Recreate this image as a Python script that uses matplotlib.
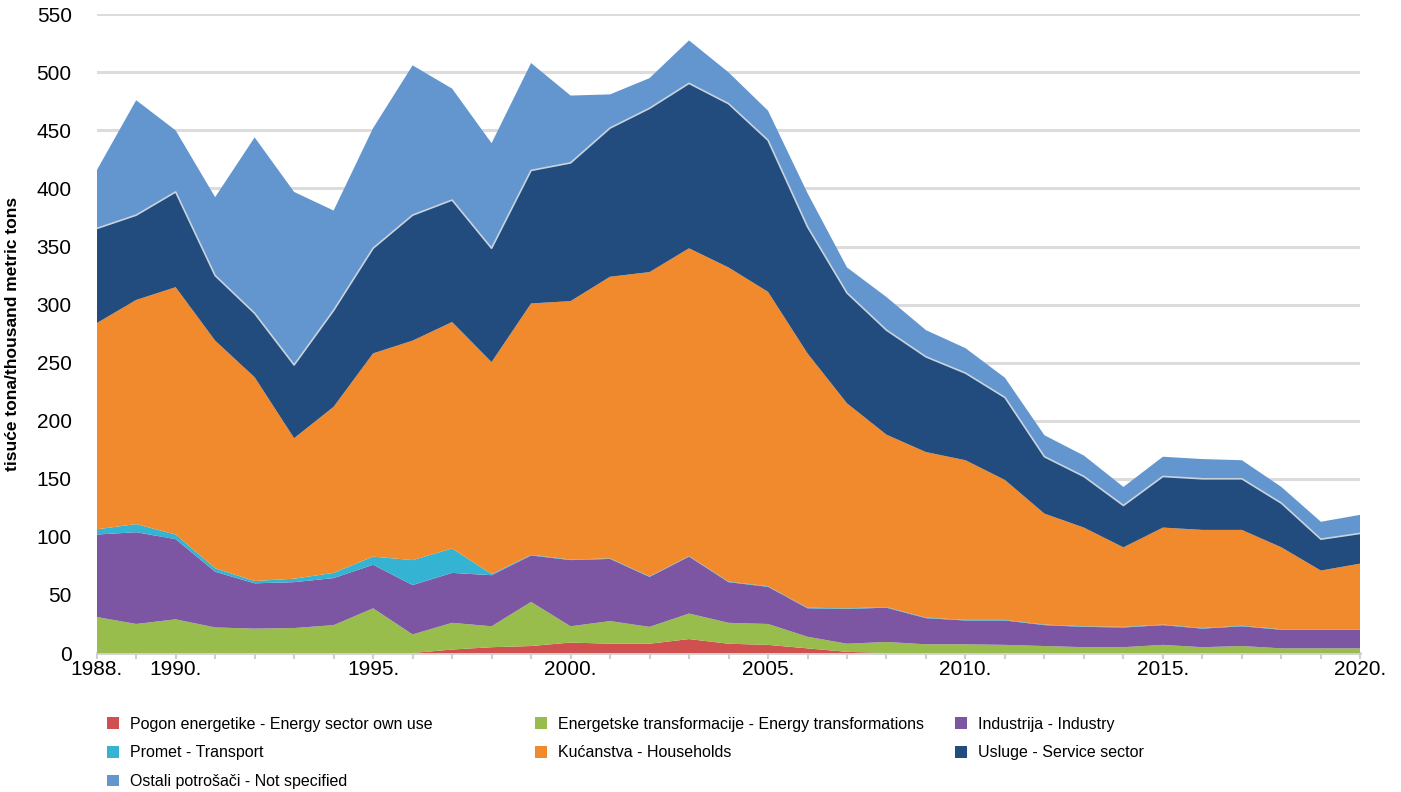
import matplotlib
matplotlib.use('Agg')
import matplotlib.pyplot as plt
import numpy as np

plt.rcParams['font.family'] = ['Liberation Sans', 'DejaVu Sans']

years = list(range(1988, 2021))

# thousand metric tons
energy_own = [0, 0, 0, 0, 0, 0, 0, 0, 0, 3, 5, 6, 9, 8, 8, 12, 8, 7, 4, 1,
              0, 0, 0, 0, 0, 0, 0, 0, 0, 0, 0, 0, 0]
transformations = [31, 25, 29, 22, 21, 21.5, 24, 38.5, 16, 23, 18, 38, 14, 19.5, 14.5, 22, 18, 18, 10, 7,
                   9.5, 7.5, 7.5, 7, 6, 5, 5, 7, 5, 6, 4, 4, 4]
industry = [71, 79, 69, 48, 39, 39.5, 40.5, 37.5, 42.5, 43, 44, 40, 57, 53.5, 43, 49, 35, 32, 24.5, 30,
            29.5, 22.5, 20.5, 21, 18, 17.5, 17, 17, 16, 17, 16, 16, 16]
transport = [4.5, 7, 4, 3, 2, 3, 4.5, 7, 21.5, 21, 1, 0.5, 0.5, 0.5, 0.5, 0.5, 0.5, 0.5, 0.5, 0.5,
             0.5, 0.5, 0.5, 0.5, 0.5, 0.5, 0.5, 0.5, 0.5, 0.5, 0.5, 0.5, 0.5]
households = [177.5, 193, 213, 196, 175.5, 121, 143, 175, 189, 195, 182.5, 216.5, 222.5, 242.5, 262, 265, 270.5,
              253.5, 219, 176.5, 148.5, 142.5, 137.5, 120.5, 95.5, 85, 68.5, 83.5, 84.5, 82.5, 70.5, 50.5, 56.5]
services = [81.5, 73, 82, 56, 55, 63, 83, 90.5, 108, 105, 98, 114.5, 119, 128, 141, 142, 141,
            130.5, 109, 95, 90, 82, 75, 71, 49, 44, 36, 44, 44, 44, 38, 27, 26]
not_specified = [50, 99, 53, 67.5, 151.5, 149, 86, 103.5, 129, 96, 90.5, 92.5, 58, 29, 26, 37, 27,
                 25.5, 29, 22, 28.5, 23, 21.5, 17, 18.5, 18, 16, 17, 17, 16, 14, 15, 16]

labels = ['Pogon energetike - Energy sector own use',
          'Energetske transformacije - Energy transformations',
          'Industrija - Industry',
          'Promet - Transport',
          'Kućanstva - Households',
          'Usluge - Service sector',
          'Ostali potrošači - Not specified']
colors = ['#d0504f', '#98bd4c', '#7d56a3', '#35b3d3', '#f18a2c', '#224b7e', '#6396cf']

fig = plt.figure(figsize=(14.01, 7.92), dpi=100)
ax = fig.add_axes([0.069, 0.1755, 0.902, 0.8065])

series = [energy_own, transformations, industry, transport, households, services, not_specified]
polys = ax.stackplot(years, *series, colors=colors, labels=labels, linewidth=0, zorder=3)

# thin light edge between service sector and not specified (bevel look)
cum = np.cumsum(np.array(series, dtype=float), axis=0)
ax.plot(years, cum[5], color='#c9d3de', lw=1.2, zorder=4)

ax.set_xlim(1988, 2020)
ax.set_ylim(0, 550)
ax.set_yticks(range(0, 551, 50))
ax.tick_params(axis='y', length=0, labelsize=15, pad=18)
ax.yaxis.grid(True, color='#dcdcdc', lw=2.2, zorder=0)
ax.set_axisbelow(True)

ax.set_xticks(years)
ax.set_xticklabels([f'{y}.' if y in (1988, 1990, 1995, 2000, 2005, 2010, 2015, 2020) else ''
                    for y in years])
ax.tick_params(axis='x', length=4, width=1.5, color='#d0d0d0', labelsize=15, pad=1)

for s in ['top', 'right', 'left']:
    ax.spines[s].set_visible(False)
ax.spines['bottom'].set_color('#d0d0d0')
ax.spines['bottom'].set_linewidth(2)

ax.set_ylabel('tisuće tona/thousand metric tons', fontsize=12.5, fontweight='bold', labelpad=12)

# legend laid out row by row in three columns
handles, lbls = ax.get_legend_handles_labels()
col_x = [0.072, 0.377, 0.677]
for c in range(3):
    idx = list(range(c, len(handles), 3))
    fig.legend([handles[i] for i in idx], [lbls[i] for i in idx], loc='upper left',
               bbox_to_anchor=(col_x[c], 0.103), ncol=1, frameon=False, fontsize=11.5,
               handlelength=0.75, handleheight=0.75, handletextpad=0.7,
               labelspacing=0.85, borderaxespad=0)

fig.savefig('out.png', dpi=100)
